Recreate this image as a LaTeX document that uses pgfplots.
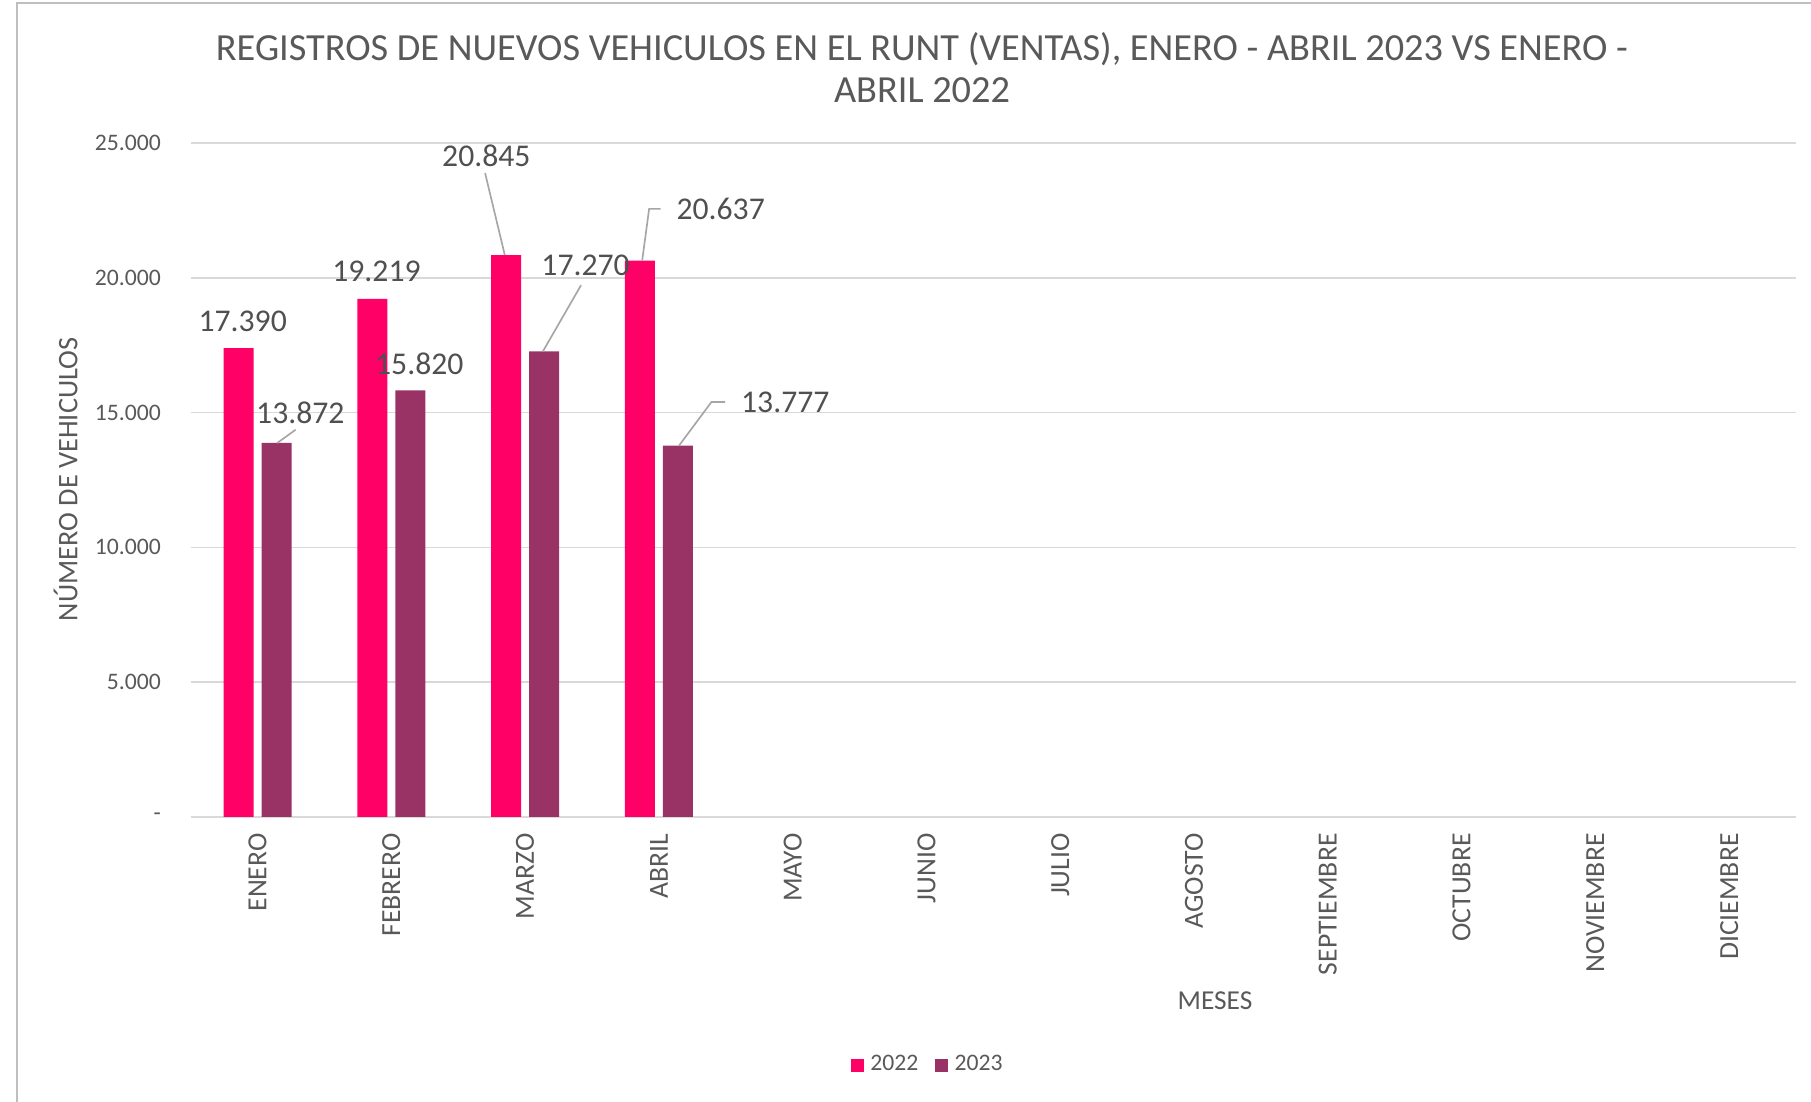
\documentclass[border=0pt]{standalone}
\usepackage{fontspec}
\setmainfont{Carlito}
\usepackage{pgfplots}
\pgfplotsset{compat=1.18}
\definecolor{c22}{HTML}{FF0066}
\definecolor{c23}{HTML}{993366}
\definecolor{txt}{HTML}{595959}
\definecolor{lbl}{HTML}{505050}
\definecolor{gridc}{HTML}{D9D9D9}
\definecolor{leader}{HTML}{A6A6A6}

\begin{document}
\begin{tikzpicture}[x=1pt,y=1pt]
\path[use as bounding box] (0,0) rectangle (543.3,330.6);
\draw[color=black!25, line width=0.6pt] (5.2,0) -- (5.2,329.6) -- (543.3,329.6);

% title and outer labels
\node[font=\fontsize{11.5}{12.5}\selectfont, text=txt, align=center] at (276.6,310.4)
  {REGISTROS DE NUEVOS VEHICULOS EN EL RUNT (VENTAS), ENERO - ABRIL 2023 VS ENERO -\\ABRIL 2022};
\node[rotate=90, font=\fontsize{8.5}{10}\selectfont, text=txt] at (19.7,186.8) {NÚMERO DE VEHICULOS};
\node[font=\fontsize{8.2}{10}\selectfont, text=txt] at (364.5,30.5) {MESES};

\begin{axis}[
  at={(57.2pt,85.5pt)}, anchor=south west,
  width=481.6pt, height=202.2pt, scale only axis,
  ybar=2.4pt, bar width=9pt,
  xmin=-0.5, xmax=11.5, ymin=0, ymax=25000,
  xtick={0,...,11},
  xticklabels={ENERO,FEBRERO,MARZO,ABRIL,MAYO,JUNIO,JULIO,AGOSTO,SEPTIEMBRE,OCTUBRE,NOVIEMBRE,DICIEMBRE},
  ytick={0,5000,10000,15000,20000,25000},
  yticklabels={-,5.000,10.000,15.000,20.000,25.000},
  scaled y ticks=false,
  axis y line*=left, y axis line style={draw=none},
  axis x line*=bottom, x axis line style={draw=gridc, line width=0.8pt},
  major tick length=0pt,
  ymajorgrids, grid style={gridc, line width=0.45pt},
  xticklabel style={rotate=90, anchor=east, xshift=-1.4pt, font=\fontsize{8.3}{10}\selectfont, text=txt},
  yticklabel style={anchor=east, xshift=-5.4pt, font=\fontsize{7.1}{9}\selectfont, text=txt},
  clip=false,
  legend columns=2,
  legend style={at={(0.4605,-0.369)}, anchor=center, draw=none, fill=none,
    font=\fontsize{7.1}{9}\selectfont, text=txt,
    /tikz/every even column/.append style={column sep=3pt}},
]
\addplot[fill=c22, draw=none,
  legend image code/.code={\fill[c22] (0pt,-1.95pt) rectangle (3.9pt,1.95pt);}]
  coordinates {(0,17390) (1,19219) (2,20845) (3,20637)};
\addplot[fill=c23, draw=none,
  legend image code/.code={\fill[c23] (0pt,-1.95pt) rectangle (3.9pt,1.95pt);}]
  coordinates {(0,13872) (1,15820) (2,17270) (3,13777)};
\legend{2022,2023}

% leader lines
\draw[leader, line width=0.5pt] (axis cs:0.147,13872) -- (axis cs:0.285,14365);
\draw[leader, line width=0.5pt] (axis cs:1.848,20845) -- (axis cs:1.701,23884);
\draw[leader, line width=0.5pt] (axis cs:2.133,17270) -- (axis cs:2.418,19725);
\draw[leader, line width=0.5pt] (axis cs:2.875,20637) -- (axis cs:2.927,22555) -- (axis cs:3.013,22555);
\draw[leader, line width=0.5pt] (axis cs:3.151,13777) -- (axis cs:3.393,15394) -- (axis cs:3.496,15394);

% data labels
\begin{scope}[every node/.style={font=\fontsize{9.5}{11}\selectfont, text=lbl}]
\node at (axis cs:-0.111,18396) {17.390};
\node at (axis cs:0.320,15008) {13.872};
\node at (axis cs:0.889,20240) {19.219};
\node at (axis cs:1.209,16809) {15.820};
\node at (axis cs:1.710,24527) {20.845};
\node at (axis cs:2.452,20454) {17.270};
\node at (axis cs:3.462,22555) {20.637};
\node at (axis cs:3.945,15394) {13.777};
\end{scope}
\end{axis}
\end{tikzpicture}
\end{document}
